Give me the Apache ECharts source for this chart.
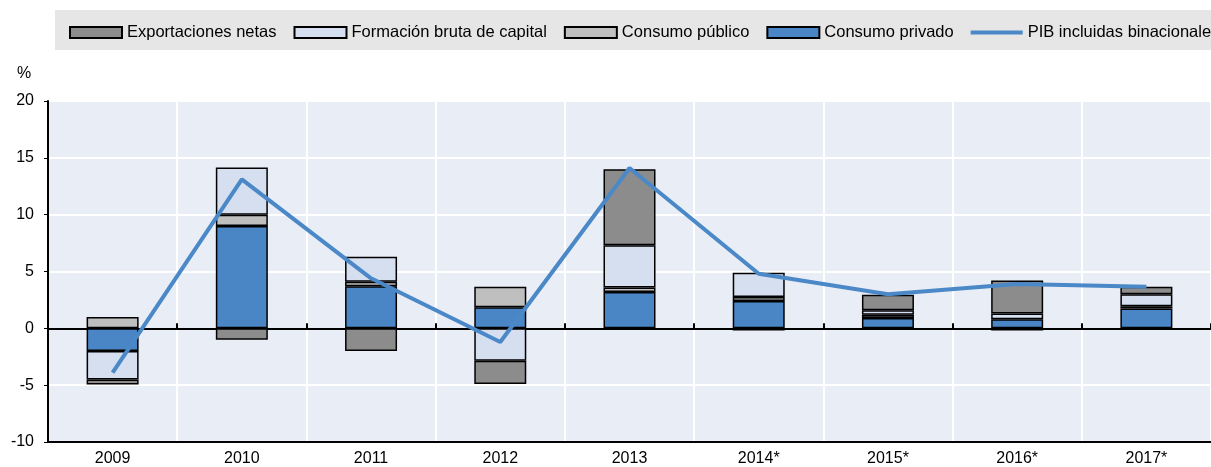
<!DOCTYPE html>
<html>
<head>
<meta charset="UTF-8">
<title>PIB componentes</title>
<script src="https://cdn.jsdelivr.net/npm/echarts@6/dist/echarts.min.js"></script>
<style>
  html, body { margin: 0; padding: 0; background: #fff; }
  #main { width: 1211px; height: 467px; }
</style>
</head>
<body>
<div id="main"></div>
<script type="text/javascript">
// datos
var years = ['2009', '2010', '2011', '2012', '2013', '2014*', '2015*', '2016*', '2017*'];
var consumoPrivado = [-2.0, 9.0, 3.7, 1.85, 3.2, 2.4, 0.9, 0.8, 1.75];
var consumoPublico = [1.0, 1.0, 0.4, 1.8, 0.4, 0.35, 0.3, -0.2, 0.2];
var formacionBruta = [-2.5, 4.15, 2.2, -2.85, 3.7, 2.15, 0.4, 0.5, 1.05];
var exportaciones = [-0.45, -1.0, -2.0, -2.05, 6.7, -0.2, 1.35, 2.9, 0.65];
var pib = [-3.9, 13.1, 4.4, -1.2, 14.1, 4.8, 3.0, 3.9, 3.65];
var yTicks = [-10, -5, 0, 5, 10, 15, 20];

var font = '"Liberation Sans", Arial, sans-serif';

var myChart = echarts.init(document.getElementById('main'));

function barSerie(name, data, color) {
    return {
        name: name,
        type: 'bar',
        stack: 'total',
        barWidth: 52,
        data: data,
        itemStyle: { color: color, borderColor: '#000', borderWidth: 1.5 }
    };
}

var option = {
    animation: false,
    textStyle: { fontFamily: font },
    graphic: [
        // fondo gris de la leyenda
        { type: 'rect', shape: { x: 55, y: 10, width: 1170, height: 40 }, style: { fill: '#e6e6e6' }, z: -1 },
        { type: 'text', left: 17, top: 66, style: { text: '%', fontSize: 16, fontFamily: font, fill: '#000' } }
    ],
    legend: {
        left: 64,
        top: 19,
        width: 1400,
        itemWidth: 52,
        itemHeight: 11,
        itemGap: 17,
        icon: 'rect',
        textStyle: { fontSize: 16.5, color: '#000', fontFamily: font },
        data: [
            'Exportaciones netas',
            'Formación bruta de capital',
            'Consumo público',
            'Consumo privado',
            { name: 'PIB incluidas binacionales', icon: 'path://M0,0 L100,0 L100,8 L0,8 Z' }
        ]
    },
    grid: {
        left: 48,
        top: 101,
        bottom: 20,
        width: 1172,
        show: true,
        backgroundColor: '#e9edf6',
        borderWidth: 0
    },
    xAxis: [{
        type: 'category',
        data: years,
        position: 'bottom',
        axisLine: { onZero: false, lineStyle: { color: '#000', width: 2 } },
        axisTick: { show: false },
        axisLabel: { color: '#000', fontSize: 16, margin: 9 },
        splitLine: { show: true, lineStyle: { color: '#fff', width: 2 } }
    }, {
        // linea del cero con marcas
        type: 'category',
        data: years,
        position: 'top',
        axisLine: { onZero: true, lineStyle: { color: '#000', width: 2 } },
        axisTick: { show: true, length: 5, lineStyle: { color: '#000', width: 2 } },
        axisLabel: { show: false },
        splitLine: { show: false }
    }],
    yAxis: {
        type: 'value',
        min: yTicks[0],
        max: yTicks[yTicks.length - 1],
        interval: 5,
        axisLine: { show: true, lineStyle: { color: '#000', width: 2 } },
        axisTick: { show: true, length: 4, lineStyle: { color: '#000' } },
        axisLabel: { color: '#000', fontSize: 16, margin: 14 },
        splitLine: { show: true, lineStyle: { color: '#fff', width: 2 } }
    },
    series: [
        barSerie('Consumo privado', consumoPrivado, '#4a86c5'),
        barSerie('Consumo público', consumoPublico, '#bfbfbf'),
        barSerie('Formación bruta de capital', formacionBruta, '#d6dff0'),
        barSerie('Exportaciones netas', exportaciones, '#8c8c8c'),
        {
            name: 'PIB incluidas binacionales',
            type: 'line',
            data: pib,
            symbol: 'none',
            lineStyle: { color: '#4a88c7', width: 4 },
            itemStyle: { color: '#4a88c7' },
            z: 5
        }
    ]
};

myChart.setOption(option);
</script>
</body>
</html>
